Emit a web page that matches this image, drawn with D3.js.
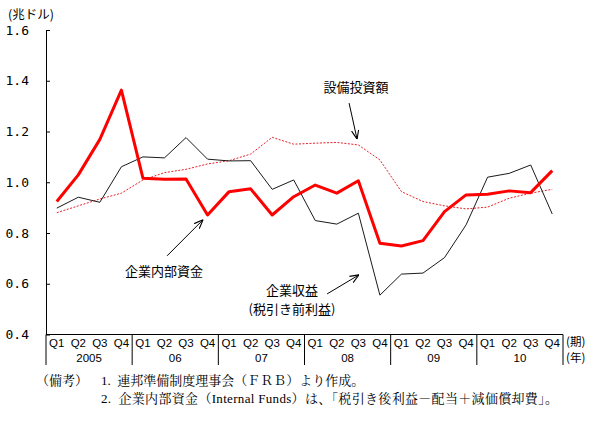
<!DOCTYPE html>
<html>
<head>
<meta charset="utf-8">
<script src="https://cdn.jsdelivr.net/npm/d3@7"></script>
<style>
  body { margin: 0; background: #fff; }
  svg { display: block; }
  .jp { font-family: "Noto Sans CJK JP", sans-serif; }
  .note { font-family: "Liberation Serif", "Noto Serif CJK JP", "Noto Sans CJK JP", serif; font-size: 13px; }
</style>
</head>
<body>
<div id="chart"></div>
<script>
// kategorie a hodnoty
const quarters = ["Q1", "Q2", "Q3", "Q4"];
const years = ["2005", "06", "07", "08", "09", "10"];
const yTicks = [0.4, 0.6, 0.8, 1.0, 1.2, 1.4, 1.6];

// 企業内部資金
const internalFunds = [0.924, 1.029, 1.169, 1.363, 1.016, 1.012, 1.013, 0.871,
                       0.963, 0.974, 0.871, 0.943, 0.989, 0.957, 1.006, 0.760,
                       0.749, 0.770, 0.884, 0.950, 0.953, 0.966, 0.959, 1.046];
// 企業収益（税引き前利益）
const profits = [0.898, 0.941, 0.921, 1.061, 1.100, 1.096, 1.176, 1.091,
                 1.084, 1.085, 0.972, 1.009, 0.849, 0.835, 0.878, 0.555,
                 0.638, 0.642, 0.703, 0.832, 1.020, 1.035, 1.068, 0.875];
// 設備投資額
const investment = [0.880, 0.907, 0.934, 0.957, 1.009, 1.038, 1.051, 1.072,
                    1.085, 1.111, 1.177, 1.150, 1.154, 1.157, 1.147, 1.088,
                    0.963, 0.924, 0.907, 0.895, 0.902, 0.937, 0.957, 0.972];

const width = 601, height = 423;
const mLeft = 46, mRight = 563, mTop = 30, mBottom = 334.5;

const svg = d3.select("#chart").append("svg")
    .attr("width", width)
    .attr("height", height);

const n = years.length * quarters.length;
const x = d3.scaleBand().domain(d3.range(n)).range([mLeft, mRight]);
const y = d3.scaleLinear().domain([0.4, 1.6]).range([mBottom, mTop]);
const cx = i => x(0) + (i + 0.5) * x.step();

// sipka
svg.append("defs").append("marker")
    .attr("id", "arrow")
    .attr("viewBox", "0 0 10 10")
    .attr("refX", 10).attr("refY", 5)
    .attr("markerWidth", 9).attr("markerHeight", 9)
    .attr("markerUnits", "userSpaceOnUse")
    .attr("orient", "auto")
    .append("path")
    .attr("d", "M0,1 L10,5 L0,9")
    .attr("fill", "none")
    .attr("stroke", "#000")
    .attr("stroke-width", 1.2);

// osa Y
const yAxis = d3.axisLeft(y)
    .tickValues(yTicks)
    .tickFormat(d3.format(".1f"))
    .tickSizeInner(-4)
    .tickSizeOuter(0)
    .tickPadding(17);

const gy = svg.append("g")
    .attr("transform", `translate(${mLeft},0)`)
    .call(yAxis);
gy.select(".domain").attr("stroke", "#000");
gy.selectAll(".tick line").attr("stroke", "#000");
gy.selectAll(".tick text")
    .attr("font-family", "DejaVu Sans Mono, monospace")
    .attr("font-size", 13)
    .attr("fill", "#000");

svg.append("text")
    .attr("class", "jp")
    .attr("x", 8).attr("y", 19)
    .attr("font-size", 12.5)
    .text("(兆ドル)");

// osa X jako tabulka
svg.append("line")
    .attr("x1", mLeft).attr("x2", mRight)
    .attr("y1", mBottom).attr("y2", mBottom)
    .attr("stroke", "#000");

svg.selectAll(".sep")
    .data(d3.range(years.length + 1))
    .enter().append("line")
    .attr("class", "sep")
    .attr("x1", k => x(0) + k * quarters.length * x.step())
    .attr("x2", k => x(0) + k * quarters.length * x.step())
    .attr("y1", mBottom).attr("y2", 365)
    .attr("stroke", "#000");

svg.selectAll(".qlab")
    .data(d3.range(n))
    .enter().append("text")
    .attr("class", "qlab")
    .attr("x", i => cx(i))
    .attr("y", 347)
    .attr("text-anchor", "middle")
    .attr("font-family", "Liberation Sans, sans-serif")
    .attr("font-size", 11.5)
    .text(i => quarters[i % quarters.length]);

svg.selectAll(".ylab")
    .data(years)
    .enter().append("text")
    .attr("class", "ylab")
    .attr("x", (d, k) => x(0) + (k + 0.5) * quarters.length * x.step())
    .attr("y", 362)
    .attr("text-anchor", "middle")
    .attr("font-family", "Liberation Sans, sans-serif")
    .attr("font-size", 11.5)
    .text(d => d);

svg.append("text").attr("class", "jp")
    .attr("x", 566).attr("y", 346).attr("font-size", 11.5).text("(期)");
svg.append("text").attr("class", "jp")
    .attr("x", 566).attr("y", 362).attr("font-size", 11.5).text("(年)");

// cary
const line = d3.line().x((d, i) => cx(i)).y(d => y(d));

svg.append("path").datum(investment)
    .attr("d", line)
    .attr("fill", "none")
    .attr("stroke", "#e8212b")
    .attr("stroke-width", 1)
    .attr("stroke-dasharray", "2,1.5");

svg.append("path").datum(profits)
    .attr("d", line)
    .attr("fill", "none")
    .attr("stroke", "#1a1a1a")
    .attr("stroke-width", 1);

svg.append("path").datum(internalFunds)
    .attr("d", line)
    .attr("fill", "none")
    .attr("stroke", "#ff0000")
    .attr("stroke-width", 3)
    .attr("stroke-linejoin", "round");

// popisky se sipkami (pozice v datovych souradnicich: index ctvrtleti, hodnota)
const labels = [
    { text: ["設備投資額"], at: [13.89, 1.355], from: [13.57, 1.312], to: [13.94, 1.170] },
    { text: ["企業内部資金"], at: [4.98, 0.632], from: [5.12, 0.71], to: [6.79, 0.852] },
    { text: ["企業収益", "(税引き前利益)"], at: [10.92, 0.556], from: [12.55, 0.56], to: [14.03, 0.635] }
];

labels.forEach(d => {
    const t = svg.append("text")
        .attr("class", "jp")
        .attr("font-size", 13)
        .attr("text-anchor", "middle");
    d.text.forEach((s, k) => {
        t.append("tspan")
            .attr("x", cx(d.at[0]))
            .attr("y", y(d.at[1]) + k * 19)
            .text(s);
    });
    svg.append("line")
        .attr("x1", cx(d.from[0])).attr("y1", y(d.from[1]))
        .attr("x2", cx(d.to[0])).attr("y2", y(d.to[1]))
        .attr("stroke", "#000")
        .attr("stroke-width", 1)
        .attr("marker-end", "url(#arrow)");
});

// poznamky
svg.append("text").attr("class", "note")
    .attr("x", 36).attr("y", 385)
    .text("（備考）");
svg.append("text").attr("class", "note")
    .attr("x", 101).attr("y", 385)
    .text("1.\u00a0\u00a0連邦準備制度理事会（ＦＲＢ）より作成。");
svg.append("text").attr("class", "note")
    .attr("x", 101).attr("y", 403)
    .attr("textLength", 457)
    .attr("lengthAdjust", "spacing")
    .text("2.\u00a0\u00a0企業内部資金（Internal Funds）は、「税引き後利益－配当＋減価償却費」。");
</script>
</body>
</html>
